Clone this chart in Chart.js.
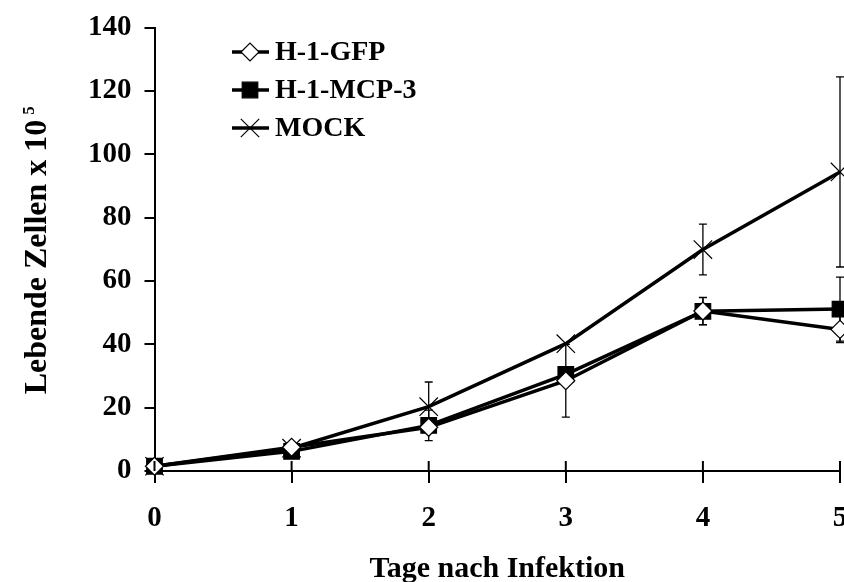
<!DOCTYPE html>
<html>
<head>
<meta charset="utf-8">
<script src="https://cdn.jsdelivr.net/npm/chart.js@4.4.1/dist/chart.umd.min.js"></script>
<style>
  html, body { margin: 0; padding: 0; background: #fff; overflow: hidden; }
  #wrap { width: 870px; height: 582px; }
</style>
</head>
<body>
<div id="wrap"><canvas id="chartZellen" width="870" height="582"></canvas></div>
<script>
// Lebende Zellen nach Infektion — drei Serien mit Fehlerbalken
const TAGE = [0, 1, 2, 3, 4, 5];
const GFP = [1.5, 7.5, 13.8, 28.5, 50.5, 44.7];
const MCP = [1.5, 6.2, 14.4, 30.5, 50.4, 51.1];
const MOCK = [1.5, 7.2, 20.3, 40.2, 69.9, 94.4];
const GFP_ERR = [0, 0, 0, 11.5, 4.3, 4.2];
const MCP_ERR = [0, 0, 4.8, 0, 4.3, 10.1];
const MOCK_ERR = [0, 0, 7.8, 0, 8, 30];
const Y_TICKS = [0, 20, 40, 60, 80, 100, 120, 140];

const SCHRIFT = '"Liberation Serif", "Times New Roman", serif';

const SERIEN = [
    { label: 'H-1-GFP', werte: GFP, fehler: GFP_ERR, punkt: 'rectRot', radius: 9, fuell: '#fff' },
    { label: 'H-1-MCP-3', werte: MCP, fehler: MCP_ERR, punkt: 'rect', radius: 11, fuell: '#000' },
    { label: 'MOCK', werte: MOCK, fehler: MOCK_ERR, punkt: 'crossRot', radius: 13, fuell: '#000' },
];

// Fehlerbalken unter die Marker zeichnen
const fehlerbalken = {
    id: 'fehlerbalken',
    beforeDatasetsDraw(chart) {
        const { ctx, scales: { x, y } } = chart;
        ctx.save();
        ctx.strokeStyle = '#000';
        ctx.lineWidth = 1.3;
        SERIEN.forEach(s => {
            s.fehler.forEach((e, i) => {
                if (!e) return;
                const px = x.getPixelForValue(TAGE[i]);
                const oben = y.getPixelForValue(s.werte[i] + e);
                const unten = y.getPixelForValue(s.werte[i] - e);
                ctx.beginPath();
                ctx.moveTo(px, oben); ctx.lineTo(px, unten);
                ctx.moveTo(px - 4, oben); ctx.lineTo(px + 4, oben);
                ctx.moveTo(px - 4, unten); ctx.lineTo(px + 4, unten);
                ctx.stroke();
            });
        });
        ctx.restore();
    },
};

// x-Ticks ragen auch nach innen; Legende und y-Titel von Hand
const extras = {
    id: 'extras',
    afterDraw(chart) {
        const { ctx, chartArea, scales: { x } } = chart;
        ctx.save();
        ctx.strokeStyle = '#000';
        ctx.lineWidth = 2;
        TAGE.forEach(t => {
            const px = x.getPixelForValue(t);
            ctx.beginPath();
            ctx.moveTo(px, chartArea.bottom - 10);
            ctx.lineTo(px, chartArea.bottom);
            ctx.stroke();
        });

        // Legende
        const yPos = [52, 90, 128];
        SERIEN.forEach((s, i) => {
            const yy = yPos[i];
            ctx.lineWidth = 3.5;
            ctx.beginPath();
            ctx.moveTo(232, yy); ctx.lineTo(269, yy);
            ctx.stroke();
            ctx.lineWidth = 1.2;
            ctx.fillStyle = s.fuell;
            Chart.helpers.drawPoint(ctx, { pointStyle: s.punkt, radius: s.radius, rotation: 0, borderWidth: 1.2 }, 250, yy);
            ctx.fillStyle = '#000';
            ctx.font = `bold 28px ${SCHRIFT}`;
            ctx.textBaseline = 'middle';
            ctx.textAlign = 'left';
            ctx.fillText(s.label, 275, yy + 1);
        });

        // y-Achsentitel mit Hochzahl
        ctx.translate(46, 257);
        ctx.rotate(-Math.PI / 2);
        ctx.font = `bold 32px ${SCHRIFT}`;
        ctx.textAlign = 'center';
        ctx.textBaseline = 'alphabetic';
        const titel = 'Lebende Zellen x 10';
        const halb = ctx.measureText(titel).width / 2;
        ctx.fillText(titel, 0, 0);
        ctx.font = `bold 17px ${SCHRIFT}`;
        ctx.textAlign = 'left';
        ctx.fillText('5', halb + 5, -12);
        ctx.restore();
    },
};

new Chart(document.getElementById('chartZellen').getContext('2d'), {
    type: 'line',
    data: {
        datasets: SERIEN.map(s => ({
            label: s.label,
            data: TAGE.map((t, i) => ({ x: t, y: s.werte[i] })),
            borderColor: '#000',
            borderWidth: 3.5,
            backgroundColor: s.fuell,
            pointStyle: s.punkt,
            pointRadius: s.radius,
            pointBorderWidth: 1.2,
            pointBorderColor: '#000',
            pointBackgroundColor: s.fuell,
            tension: 0,
            clip: false,
        })),
    },
    options: {
        responsive: false,
        animation: false,
        layout: { autoPadding: false, padding: { left: 75, right: 30, top: 23, bottom: -2 } },
        plugins: {
            legend: { display: false },
            tooltip: { enabled: false },
        },
        scales: {
            x: {
                type: 'linear',
                min: 0,
                max: 5,
                border: { color: '#000', width: 2 },
                grid: { drawOnChartArea: false, color: '#000', lineWidth: 2, tickLength: 12 },
                ticks: {
                    stepSize: 1,
                    color: '#000',
                    padding: 21,
                    font: { family: SCHRIFT, size: 29, weight: 'bold', lineHeight: 1 },
                },
                title: {
                    display: true,
                    text: 'Tage nach Infektion',
                    color: '#000',
                    padding: { top: 0, bottom: 0 },
                    font: { family: SCHRIFT, size: 30, weight: 'bold', lineHeight: 1 },
                },
            },
            y: {
                min: 0,
                max: 140,
                afterBuildTicks: (axis) => { axis.ticks = Y_TICKS.map(v => ({ value: v })); },
                border: { color: '#000', width: 2 },
                grid: { drawOnChartArea: false, color: '#000', lineWidth: 2, tickLength: 10 },
                ticks: {
                    color: '#000',
                    padding: 13,
                    font: { family: SCHRIFT, size: 29, weight: 'bold', lineHeight: 1 },
                },
            },
        },
    },
    plugins: [fehlerbalken, extras],
});
</script>
</body>
</html>
